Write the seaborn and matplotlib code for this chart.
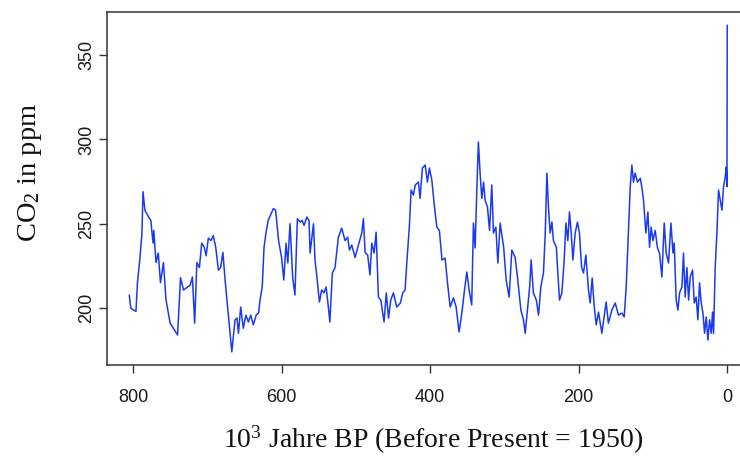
import pandas as pd
import matplotlib
matplotlib.use("Agg")
import matplotlib.pyplot as plt
import seaborn as sns

# CO2 record (EPICA Dome C composite)
age_kyr = [
    805, 803, 800, 796, 794, 791, 788, 786.5, 784, 779, 776, 773, 772, 769, 766,
    763, 759, 755.6, 750, 745.7, 740, 736, 732, 728, 723, 720, 717, 714, 710.6, 707.5,
    704, 701.5, 698.6, 695, 692, 688.6, 685, 682, 679, 676, 671.6, 667, 662.6, 660, 658,
    655, 651.5, 648, 644.7, 641.5, 638, 634, 631, 629, 626, 623.6, 621, 618, 615, 611,
    608, 604, 600, 597, 594, 591.6, 588.6, 585, 582, 578.7, 575, 572.4, 569.7, 566, 563,
    561.6, 557, 555, 553, 549, 546, 543, 540, 537, 535, 531.6, 528, 523.5, 519, 514.5,
    511, 508.6, 505.5, 501, 496.5, 492, 489.8, 487.5, 484, 481, 478.5, 475.4, 472.7, 469.6, 466.4,
    462, 459, 456, 453, 449.4, 445, 440, 436.8, 433.7, 431.4, 428, 425.6, 422.5, 420, 415.7,
    413.5, 410.4, 406.7, 403.6, 401, 397.7, 394.6, 391, 387.5, 384, 379.8, 376.6, 373, 368.6, 365,
    361, 357.3, 354, 350.6, 347.5, 344, 341.7, 339.4, 337, 335, 332.7, 330.4, 328, 326, 322.8,
    320, 317, 314.7, 311.5, 308.8, 305.7,
    301, 297.6, 293.6, 290, 285.5, 282.4, 277.8, 274.3, 272, 269, 266, 264, 261, 257, 254,
    251, 247.4, 245, 242.8, 240.7, 238.4, 236, 234, 230, 228.5, 225.8, 222.6, 219.5, 217.2, 214.6,
    212.4, 210, 207.8, 204.7, 201.6, 199, 196, 193.5, 190.3, 186.8, 184.5, 181.8, 179, 176.4, 173.3,
    168.8, 165.7, 163, 160, 155.3, 150.8, 146.4, 141.8, 138.7, 136, 133, 130.6, 128.4, 126.2, 124,
    120.8, 117, 115, 112.7, 109.5, 106.8, 104.6, 102.4, 100, 97, 93.9, 91.2, 88, 84.8, 82.2,
    79, 75.8, 73, 71.4, 68.7, 66.4, 64.2, 61, 58.9, 56.6, 54.3, 52, 49.8, 46.7, 44.4,
    41.8, 39.5, 37.3, 35, 32.7, 30.5, 28.3, 26, 23.8, 21.5, 19.8, 18.4, 16.2, 13.9, 11.7,
    9.4, 7.1, 5, 2.7, 1.3, 0.4, -0.05,
]
co2_ppm = [
    207.7, 200, 199, 198, 215, 228, 244, 269, 258, 254, 252, 238.5, 246, 227, 232.6,
    215, 227, 205, 191, 188, 184, 218, 210.7, 212, 213.6, 218.4, 191, 227, 224, 238.5,
    236, 231, 241.5, 240, 243, 236, 222.5, 224, 233, 216.6, 195.8, 174, 193, 194, 185,
    200.6, 188, 195.8, 191.7, 195.8, 190, 196, 197, 204.7, 212.5, 236, 244.5, 252, 255, 259,
    258, 240, 230, 216.6, 238.5, 226.7, 250, 218, 207.7, 253, 251, 252, 249, 254, 252,
    232.6, 250, 228.5, 220.8, 203.6, 210.7, 209, 212.5, 200.6, 191.7, 220.8, 224, 242, 247.4, 240,
    242, 234.4, 237.4, 230, 237.4, 244.5, 253, 233, 231.4, 219.6, 238.5, 232.6, 245, 206.5, 204.7,
    191.7, 209, 194, 204.7, 209, 200.6, 203, 209, 210.7, 226.7, 248, 270, 267, 273, 274.7,
    265, 283, 284.8, 274.7, 283, 276, 262, 248, 246, 228.5, 229.6, 215, 200.6, 206, 200.6,
    185.8, 197, 209.5, 221.4, 210.7, 201.8, 250.4, 235.6, 271.8, 298.5, 280, 265, 274.7, 264, 260,
    246, 273, 244.5, 248, 226.7, 250.4,
    236, 216.6, 206.5, 234.4, 230, 218.4, 198.8, 193, 185, 198.8, 212.5, 228.5, 209, 204.7, 195.8,
    212.5, 220.8, 244.5, 280, 260, 244.5, 251, 240, 236, 224, 204.7, 209, 228.5, 250.4, 240,
    257, 244.5, 228.5, 244.5, 251, 244.5, 224, 220.8, 231.4, 210.7, 203, 217.8, 200.6, 190, 197.6,
    185, 194.7, 203.6, 191, 198.8, 203, 195.8, 197, 194.7, 212.5, 246, 271.8, 284.8, 274.7, 280,
    274.7, 277, 271.8, 264, 244.5, 257, 236, 248, 240, 246, 235.6, 232.6, 218.4, 250.4, 232.6,
    226.7, 250.4, 232.6, 238.5, 204.7, 198.8, 209, 212.5, 232.6, 206.5, 224, 204.7, 218.4, 222.5, 203,
    206.5, 193, 215, 203, 197, 185, 194.7, 181, 193, 185, 197.6, 185, 224, 244.5, 270,
    264, 258, 271.8, 277.7, 283.6, 272, 367.8,
]
x_ticks = [800, 600, 400, 200, 0]
y_ticks = [200, 250, 300, 350]

df = pd.DataFrame({"age": age_kyr, "co2": co2_ppm})

sns.set_style("white")
plt.rcParams["font.family"] = ["Liberation Sans", "DejaVu Sans"]
plt.rcParams["mathtext.fontset"] = "custom"
plt.rcParams["mathtext.rm"] = "Liberation Serif"
plt.rcParams["mathtext.default"] = "regular"

fig = plt.figure(figsize=(7.40, 4.57), dpi=100)
W, H = 740, 457
# plot box in pixels: left 107, right 751 (cut off by the image edge), top 12, bottom 365
ax = fig.add_axes([107 / W, (H - 365) / H, (751 - 107) / W, (365 - 12) / H])

sns.lineplot(data=df, x="age", y="co2", ax=ax, color="#1a3af0", linewidth=1.1,
             estimator=None, sort=False)

ax.set_xlim(835, -32)
ax.set_ylim(166.2, 375.6)
ax.set_xticks(x_ticks)
ax.set_yticks(y_ticks)
ax.set_xlabel("")
ax.set_ylabel("")

for s in ax.spines.values():
    s.set_color("#333333")
    s.set_linewidth(1.1)

ax.tick_params(axis="both", direction="out", length=5.5, width=1.0, color="#333333",
               labelsize=13, labelcolor="#1a1a1a", bottom=True, left=True)
ax.tick_params(axis="x", pad=12)
ax.tick_params(axis="y", pad=3)
for lab in ax.get_yticklabels():
    lab.set_rotation(90)
    lab.set_va("center")

serif = ["Liberation Serif", "DejaVu Serif"]
fig.text(433 / W, 1 - 440 / H, r"10$^{3}$ Jahre BP (Before Present = 1950)",
         ha="center", va="center", fontsize=20, family=serif, color="#111111")
fig.text(30 / W, 1 - 172 / H, r"CO$_{2}$ in ppm", rotation=90,
         ha="center", va="center", fontsize=20.5, family=serif, color="#111111")

fig.savefig("out.png", dpi=100)
